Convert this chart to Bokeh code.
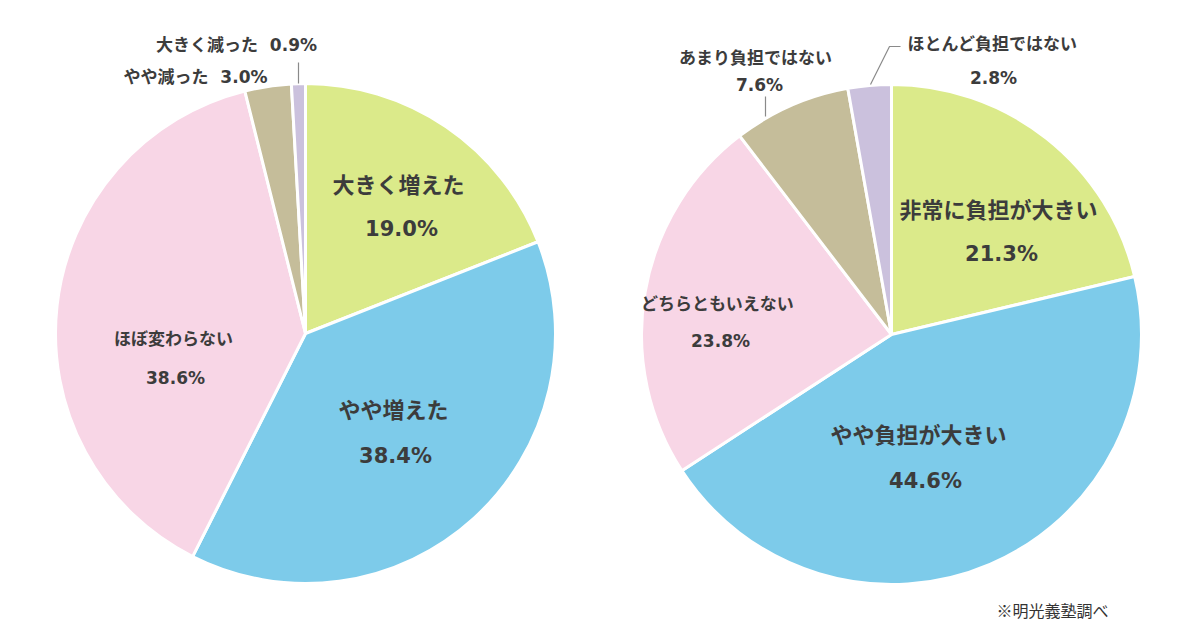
import math
from bokeh.plotting import figure
from bokeh.models import Range1d
from bokeh.core.properties import value
from bokeh.embed import file_html
from bokeh.resources import INLINE

# left pie: change in burden
left_labels = ["大きく増えた", "やや増えた", "ほぼ変わらない", "やや減った", "大きく減った"]
left_values = [19.0, 38.4, 38.6, 3.0, 0.9]

# right pie: how heavy the burden is
right_labels = ["非常に負担が大きい", "やや負担が大きい", "どちらともいえない", "あまり負担ではない", "ほとんど負担ではない"]
right_values = [21.3, 44.6, 23.8, 7.6, 2.8]

colors = ["#dbea8a", "#7dcbea", "#f8d6e6", "#c5bd9a", "#cbc1dd"]

FONT = value("DejaVu Sans, Noto Sans CJK JP")
TXT = "#3c3c3c"
W, H = 1184, 622


def Y(py):
    # page pixel row -> data y
    return 630 - py


p = figure(width=W, height=H, output_backend="svg", toolbar_location=None,
           x_range=Range1d(0, W), y_range=Range1d(630 - H, 630),
           x_axis_location=None, y_axis_location=None, min_border=0)
p.grid.visible = False
p.outline_line_color = None
p.background_fill_color = "white"


def pie(cx, cy, r, values):
    total = sum(values)
    starts, ends = [], []
    cum = 0.0
    for v in values:
        starts.append(math.pi / 2 - 2 * math.pi * cum / total)
        cum += v
        ends.append(math.pi / 2 - 2 * math.pi * cum / total)
    p.wedge(x=[cx] * len(values), y=[cy] * len(values), radius=r,
            start_angle=starts, end_angle=ends, direction="clock",
            fill_color=colors, line_color="white", line_width=3)


pie(305, Y(333), 250, left_values)
pie(891, Y(334), 250, right_values)


def label(x, py, txt, size, bold=True, align="center"):
    p.text(x=[x], y=[Y(py)], text=[txt], text_font=FONT, text_font_size=size,
           text_font_style="bold" if bold else "normal", text_color=TXT,
           text_align=align, text_baseline="middle")


def pct(v):
    return "%.1f%%" % v


GAP = "\u00a0\u00a0"

# left pie labels
label(398, 185, left_labels[0], "22px")
label(401, 228, pct(left_values[0]), "21px")
label(393, 410, left_labels[1], "22px")
label(395, 455, pct(left_values[1]), "21px")
label(173, 338, left_labels[2], "17px")
label(175, 377, pct(left_values[2]), "17px")
label(195, 76, left_labels[3] + GAP + pct(left_values[3]), "17px")
label(236, 44, left_labels[4] + GAP + pct(left_values[4]), "17px")

# right pie labels
label(998, 210, right_labels[0], "22px")
label(1001, 253, pct(right_values[0]), "21px")
label(918, 435, right_labels[1], "22px")
label(925, 480, pct(right_values[1]), "21px")
label(717, 303, right_labels[2], "17px")
label(720, 340, pct(right_values[2]), "17px")
label(755, 57, right_labels[3], "17px")
label(759, 84, pct(right_values[3]), "17px")
label(992, 43, right_labels[4], "17px")
label(993, 77, pct(right_values[4]), "17px")

# leader lines
p.line(x=[298, 298], y=[Y(62), Y(83)], line_color="#8a8a8a", line_width=1.2)
p.line(x=[765, 765], y=[Y(96), Y(116)], line_color="#8a8a8a", line_width=1.2)
p.line(x=[870, 889, 900], y=[Y(84), Y(46), Y(46)], line_color="#8a8a8a", line_width=1.2)

# source note
p.text(x=[1052], y=[Y(609)], text=["※明光義塾調べ"], text_font=value("Noto Sans CJK JP"),
       text_font_size="16px", text_color="#333333", text_align="center",
       text_baseline="middle")

open("out.html", "w").write(file_html(p, INLINE))
